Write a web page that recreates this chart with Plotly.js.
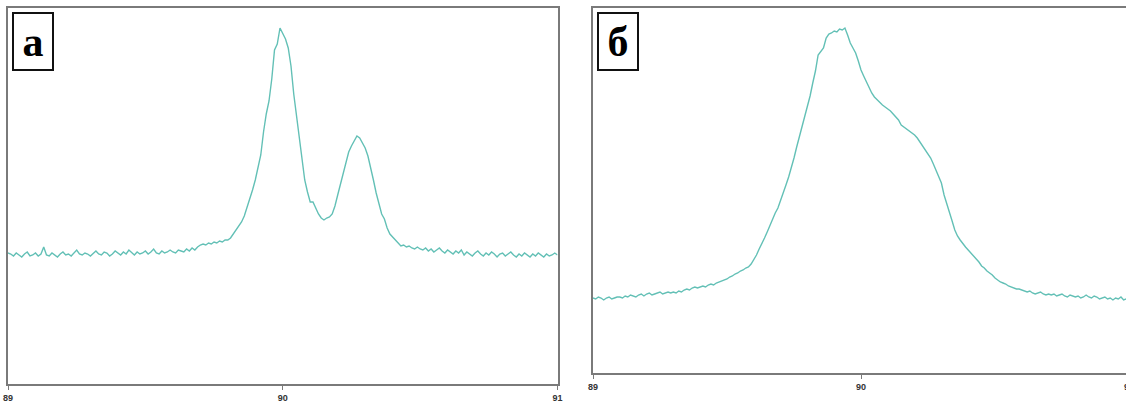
<!DOCTYPE html>
<html>
<head>
<meta charset="utf-8">
<script src="https://cdn.plot.ly/plotly-3.0.1.min.js"></script>
<style>
html, body { margin: 0; padding: 0; overflow: hidden; background: #fff; }
#chart { width: 1136px; height: 406px; }
</style>
</head>
<body>
<div id="chart"></div>
<script>
// 2θ sampling grid (degrees)
const X0 = 89.0;
const DX = 0.01;

// Panel labels
const panelLabels = ["а", "б"];
const tickValues = [89, 90, 91];
const tickLabels = ["89", "90", "91"];

// Panel "а": intensity (arb. units), one value per DX step from 89.00 to 91.00
const intensityA = [
  131,130,128,131,129,127,130,132,128,129,
  131,128,130,137,129,128,131,129,127,130,
  132,129,130,128,131,134,130,129,131,130,
  128,131,133,130,129,132,131,128,130,133,
  131,129,132,130,134,131,129,132,130,131,
  133,130,132,135,131,130,133,131,132,134,
  132,131,134,133,132,135,133,136,134,137,
  139,140,139,141,140,142,141,143,142,144,
  144,146,150,153,157,162,168,176,184,194,
  204,216,229,252,270,283,305,334,340,356,
  350,345,336,318,290,268,245,222,204,192,
  182,182,176,170,166,164,166,167,170,178,
  189,200,213,224,232,238,243,248,246,241,
  236,228,217,204,191,180,170,165,156,150,
  147,143,141,138,139,137,138,136,135,137,
  135,134,136,133,135,132,134,136,133,131,
  134,132,130,133,131,134,129,132,130,128,
  131,133,130,128,131,129,132,130,127,130,
  131,128,130,132,129,127,130,128,131,129,
  127,130,128,131,129,127,130,128,129,131,
  129
];

// Panel "б": intensity (arb. units), one value per DX step from 89.00 to 91.00
const intensityB = [
  75,74,76,75,73,75,76,74,75,76,
  76,75,77,76,78,77,76,78,79,77,
  79,80,78,79,80,81,79,80,81,80,
  81,80,82,81,83,84,83,85,86,85,
  86,87,86,88,89,88,90,91,92,93,
  94,96,97,99,100,102,103,105,106,109,
  113,118,124,129,135,141,148,154,160,165,
  172,180,188,196,205,215,226,236,246,255,
  265,277,290,302,318,321,325,335,339,340,
  342,341,344,343,345,338,330,325,320,312,
  303,297,291,286,280,276,273,270,268,266,
  264,262,259,256,253,248,246,244,242,240,
  238,235,231,228,224,220,215,209,203,197,
  190,178,170,162,152,143,137,133,129,126,
  123,120,118,114,111,107,105,102,100,98,
  95,93,91,90,89,87,86,85,84,84,
  83,82,81,82,80,79,80,81,79,78,
  79,78,79,77,78,79,77,76,78,77,
  76,77,75,76,78,76,75,77,76,74,
  75,76,74,75,73,75,74,76,73,74,
  73
];

const W = 1136, H = 406;
const lineColor = "#63c0b6";
const frameColor = "#7a7a7a";

function px(v) { return v / W; }
function py(v) { return (H - v) / H; }

const traces = [
  { type: "scatter", mode: "lines", x0: X0, dx: DX, y: intensityA,
    xaxis: "x", yaxis: "y", line: { color: lineColor, width: 1.4 }, hoverinfo: "skip" },
  { type: "scatter", mode: "lines", x0: X0, dx: DX, y: intensityB,
    xaxis: "x2", yaxis: "y2", line: { color: lineColor, width: 1.4 }, hoverinfo: "skip" }
];

const xCommon = {
  range: [89, 91], tickmode: "array", tickvals: tickValues, ticktext: tickLabels,
  ticks: "outside", ticklen: 4, tickwidth: 1, tickcolor: frameColor,
  showline: true, linecolor: frameColor, linewidth: 2, mirror: true,
  showgrid: false, zeroline: false,
  tickfont: { family: "Liberation Sans, Arial, sans-serif", size: 9, color: "#333", weight: "bold" }
};
const yCommon = {
  showline: true, linecolor: frameColor, linewidth: 2, mirror: true,
  showgrid: false, zeroline: false, showticklabels: false, ticks: ""
};

function label(text, x0, y0) {
  return {
    xref: "paper", yref: "paper", x: px(x0), y: py(y0),
    xanchor: "left", yanchor: "top", text: text, showarrow: false,
    width: 38, height: 55, borderpad: 0, borderwidth: 2,
    bordercolor: "#111", bgcolor: "#fff", align: "center", valign: "middle",
    font: { family: "Liberation Serif, Times New Roman, serif", size: 42, color: "#000", weight: "bold" }
  };
}

const layout = {
  width: W, height: H,
  margin: { l: 0, r: 0, t: 0, b: 0 },
  paper_bgcolor: "#fff", plot_bgcolor: "#fff",
  showlegend: false,
  xaxis: Object.assign({}, xCommon, { domain: [px(8), px(557.5)], anchor: "y" }),
  yaxis: Object.assign({}, yCommon, { domain: [py(384), py(8)], range: [0, 376], anchor: "x" }),
  xaxis2: Object.assign({}, xCommon, { domain: [px(593), px(1129)], anchor: "y2" }),
  yaxis2: Object.assign({}, yCommon, { domain: [py(373), py(8)], range: [0, 365], anchor: "x2" }),
  annotations: [label(panelLabels[0], 12, 12), label(panelLabels[1], 597, 12)]
};

Plotly.newPlot("chart", traces, layout, { staticPlot: true, displayModeBar: false });
</script>
</body>
</html>
